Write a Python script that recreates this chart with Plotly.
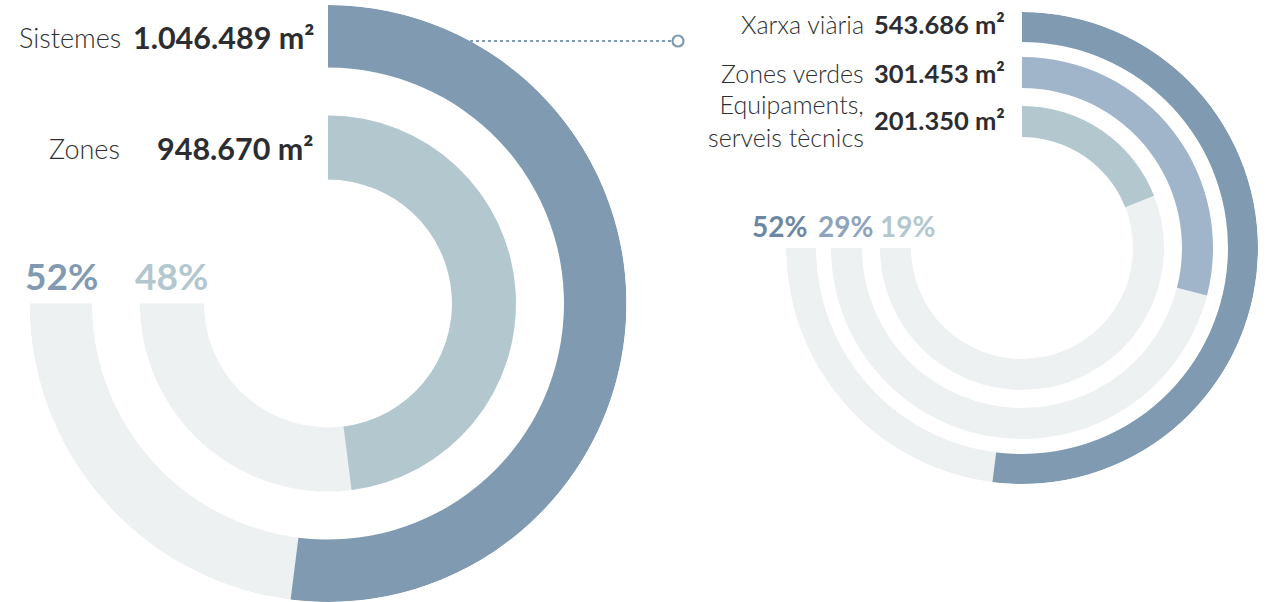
import plotly.graph_objects as go

# ---------------- data ----------------
left_labels = ["Sistemes", "Zones"]
left_values = ["1.046.489 m²", "948.670 m²"]
left_pct = [52, 48]

right_labels = ["Xarxa viària", "Zones verdes", "Equipaments,<br>serveis tècnics"]
right_values = ["543.686 m²", "301.453 m²", "201.350 m²"]
right_pct = [52, 29, 19]

# ---------------- styles / layout constants ----------------
W, H = 1266, 602
TRACK = "#edf1f2"
DARK_TXT = "#2b2d31"
LABEL_TXT = "#2e2f32"
left_colors = ["#7f9ab1", "#b3c7ce"]
right_colors = ["#7f9ab1", "#a0b5ca", "#b3c7ce"]
left_pct_colors = ["#7f9ab1", "#b3c7ce"]
right_pct_colors = ["#6d86a3", "#8ea4bc", "#b3c7ce"]

# ring radii in px (inner, outer)
left_rings = [(236, 298.5), (124, 188)]
right_rings = [(206, 236), (160, 191), (111, 142)]
TRACK_SPAN = 270  # degrees
FONT = "Lato"

fig = go.Figure()


def add_rings(polar, rings, pcts, colors):
    for (r0, r1), p, c in zip(rings, pcts, colors):
        fig.add_trace(go.Barpolar(
            r=[r1 - r0], base=[r0], theta=[TRACK_SPAN / 2], width=[TRACK_SPAN],
            marker=dict(color=TRACK, line=dict(width=0)), subplot=polar,
            hoverinfo="skip", showlegend=False))
        span = p / 100 * 360
        fig.add_trace(go.Barpolar(
            r=[r1 - r0], base=[r0], theta=[span / 2], width=[span],
            marker=dict(color=c, line=dict(width=0)), subplot=polar,
            hoverinfo="skip", showlegend=False))


add_rings("polar", left_rings, left_pct, left_colors)
add_rings("polar2", right_rings, right_pct, right_colors)


def polar_layout(x0, x1, y0, y1, R):
    return dict(
        domain=dict(x=[x0 / W, x1 / W], y=[1 - y1 / H, 1 - y0 / H]),
        bgcolor="rgba(0,0,0,0)",
        hole=0,
        radialaxis=dict(visible=False, range=[0, R]),
        angularaxis=dict(visible=False, direction="clockwise", rotation=90,
                         showgrid=False, showline=False),
    )


# dotted connector (decorative) on a hidden pixel-space cartesian axis
fig.add_trace(go.Scatter(x=[470, 672], y=[41, 41], mode="lines",
                         line=dict(color="#7f9ab1", width=2, dash="dot"),
                         hoverinfo="skip", showlegend=False))
fig.add_trace(go.Scatter(x=[678], y=[41], mode="markers",
                         marker=dict(size=11, color="white",
                                     line=dict(color="#7f9ab1", width=2.2)),
                         hoverinfo="skip", showlegend=False))

ann = []


def txt(x, y, s, size, color, anchor="right", bold=False, weight=None):
    f = dict(family=FONT, size=size, color=color)
    if weight is not None:
        f["weight"] = weight
    ann.append(dict(x=x, y=y, xref="x", yref="y", text=(f"<b>{s}</b>" if bold else s),
                    showarrow=False, xanchor=anchor, yanchor="middle", align="right",
                    font=f))


# left labels
left_label_pos = [(123, 37), (122, 148)]
for (x, y), lab, val in zip(left_label_pos, left_labels, left_values):
    txt(x, y, lab, 27, LABEL_TXT, weight=300)
    txt(316, y, val, 30.5, DARK_TXT, bold=True)

left_pct_pos = [(61, 275), (171, 275)]
for (x, y), p, c in zip(left_pct_pos, left_pct, left_pct_colors):
    txt(x, y, f"{p}%", 37, c, anchor="center", bold=True, weight=900)

# right labels
right_label_pos = [(866, 24), (866, 73), (866, 120)]
for (x, y), lab, val in zip(right_label_pos, right_labels, right_values):
    txt(x, y, lab, 25, LABEL_TXT, weight=300)
    txt(1007, y, val, 25.5, DARK_TXT, bold=True)

right_pct_pos = [(779, 226), (845, 226), (907, 226)]
for (x, y), p, c in zip(right_pct_pos, right_pct, right_pct_colors):
    txt(x, y, f"{p}%", 28, c, anchor="center", bold=True, weight=900)

fig.update_layout(
    width=W, height=H,
    margin=dict(l=0, r=0, t=0, b=0),
    paper_bgcolor="white", plot_bgcolor="rgba(0,0,0,0)",
    polar=polar_layout(29.5, 626.5, 5, 602, 298.5),
    polar2=polar_layout(786, 1258, 12, 484, 236),
    xaxis=dict(range=[0, W], visible=False, domain=[0, 1], fixedrange=True),
    yaxis=dict(range=[H, 0], visible=False, domain=[0, 1], fixedrange=True),
    annotations=ann,
    showlegend=False,
)

fig.write_html("out.html",
               config={"displayModeBar": False},
               post_script="document.body.style.margin='0';document.body.style.overflow='hidden';")
